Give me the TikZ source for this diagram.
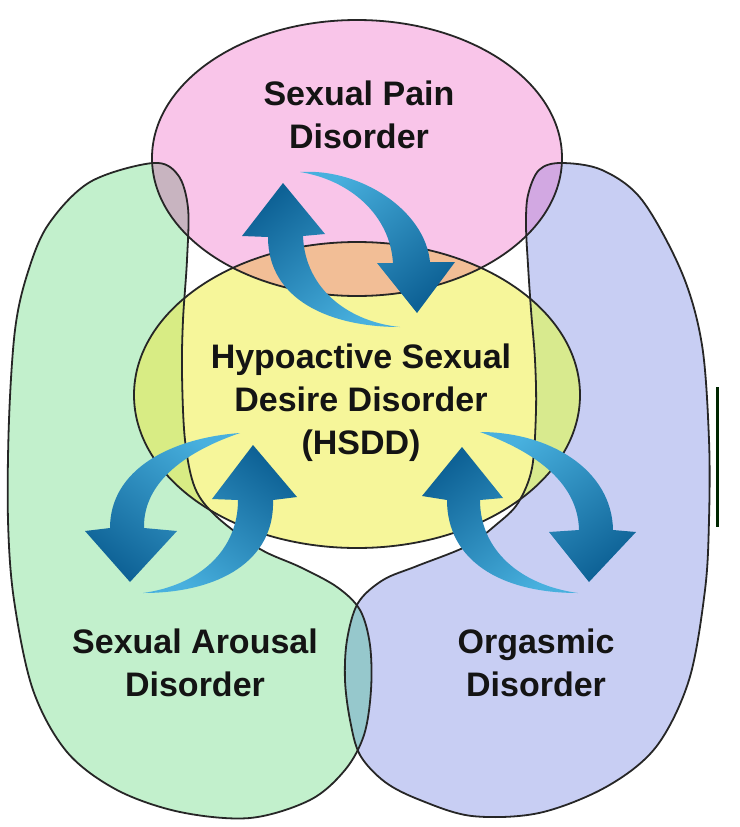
\documentclass[tikz,border=0pt]{standalone}
\usepackage{fontspec}
\setmainfont{Liberation Sans}
\begin{document}
\begin{tikzpicture}[x=1pt,y=-1pt,
  outl/.style={draw=black!85, line width=1.8pt},
  lbl/.style={font=\fontsize{34}{43}\selectfont\bfseries, text=black!92, align=center, inner sep=0pt},
  arr/.style={top color=arrlight, bottom color=arrdark, draw=none}]
\definecolor{pinkc}{RGB}{249,197,233}
\definecolor{greenc}{RGB}{194,240,204}
\definecolor{bluec}{RGB}{200,206,243}
\definecolor{yellowc}{RGB}{246,246,154}
\definecolor{orangec}{RGB}{242,190,150}
\definecolor{gyc}{RGB}{216,236,132}
\definecolor{byc}{RGB}{216,234,142}
\definecolor{gpc}{RGB}{200,180,192}
\definecolor{bpc}{RGB}{210,168,226}
\definecolor{gbc}{RGB}{150,200,204}
\definecolor{arrdark}{RGB}{14,98,150}
\definecolor{arrlight}{RGB}{72,176,222}
\useasboundingbox (0,0) rectangle (739,827);
\fill[white] (0,0) rectangle (739,827);
\def\greenpath{plot[smooth cycle, tension=0.55] coordinates {
 (153,163) (178,175) (188,208) (187,260) (183,320) (182,373) (185,440) (195,488)
 (217,517) (260,549) (300,567) (337,587) (360,610) (370,645) (371,690) (364,735)
 (345,770) (310,800) (250,818) (180,812) (117,790) (67,752) (33,690) (14,600)
 (8,520) (9,420) (15,330) (27,275) (48,225) (90,182)}}
\def\bluepath{plot[smooth cycle, tension=0.55] coordinates {
 (561,163) (539,170) (528,195) (526,225) (528,265) (531,310) (535,360) (536,410)
 (532,468) (518,503) (497,524) (467,546) (417,566) (383,580) (358,603) (347,640)
 (345,680) (350,720) (360,755) (385,782) (420,800) (472,816) (539,813) (606,787)
 (656,747) (689,680) (705,590) (709,520) (709,440) (702,345) (682,273) (642,200) (602,170)}}
\def\pinkpath{(357,158) ellipse [x radius=205pt, y radius=138pt]}
\def\yellowpath{(357,395) ellipse [x radius=223pt, y radius=153pt]}
% base fills
\fill[greenc] \greenpath;
\fill[bluec] \bluepath;
\fill[pinkc] \pinkpath;
\fill[yellowc] \yellowpath;
% overlaps
\begin{scope}\clip \pinkpath; \fill[orangec] \yellowpath; \end{scope}
\begin{scope}\clip \greenpath; \fill[gyc] \yellowpath; \end{scope}
\begin{scope}\clip \bluepath; \fill[byc] \yellowpath; \end{scope}
\begin{scope}\clip \greenpath; \fill[gpc] \pinkpath; \end{scope}
\begin{scope}\clip \bluepath; \fill[bpc] \pinkpath; \end{scope}
\begin{scope}\clip \greenpath; \fill[gbc] \bluepath; \end{scope}
% outlines
\draw[outl] \greenpath;
\draw[outl] \bluepath;
\draw[outl] \pinkpath;
\draw[outl] \yellowpath;
% edge artifact on the right
\fill[black!75!green!60!black] (716,387) rectangle (719,527);
% arrows
\shade[arr, shading angle=219] (400,327) .. controls (330,327) and (268,300) .. (268,237)
  -- (242,236) -- (283,183) -- (325,234) -- (303,236)
  .. controls (305,290) and (350,322) .. (400,327) -- cycle;
\shade[arr, shading angle=40] (300,172) .. controls (360,168) and (425,210) .. (430,262)
  -- (455,262) -- (417,313) -- (377,263) -- (393,263)
  .. controls (390,215) and (350,180) .. (300,172) -- cycle;
\shade[arr, shading angle=324] (240,433) .. controls (170,438) and (110,470) .. (110,528)
  -- (85,531) -- (130,582) -- (177,531) -- (144,528)
  .. controls (143,480) and (190,450) .. (240,433) -- cycle;
\shade[arr, shading angle=143] (143,593) .. controls (220,593) and (275,560) .. (273,500)
  -- (297,497) -- (253,445) -- (212,499) -- (238,500)
  .. controls (238,550) and (200,585) .. (143,593) -- cycle;
\shade[arr, shading angle=218] (578,593) .. controls (500,593) and (447,560) .. (447,500)
  -- (422,496) -- (462,447) -- (503,498) -- (480,500)
  .. controls (480,550) and (520,585) .. (578,593) -- cycle;
\shade[arr, shading angle=36] (480,432) .. controls (550,432) and (612,470) .. (613,530)
  -- (636,532) -- (589,582) -- (549,532) -- (579,530)
  .. controls (578,480) and (530,450) .. (480,432) -- cycle;
% labels
\node[lbl] (pain) at (359,115) {Sexual Pain\\Disorder};
\node[lbl] (hsdd) at (361,403) {Hypoactive Sexual\\Desire Disorder\\(HSDD)};
\node[lbl] (arousal) at (195,663) {Sexual Arousal\\Disorder};
\node[lbl] (orgasm) at (536,663) {Orgasmic\\Disorder};
\end{tikzpicture}
\end{document}
